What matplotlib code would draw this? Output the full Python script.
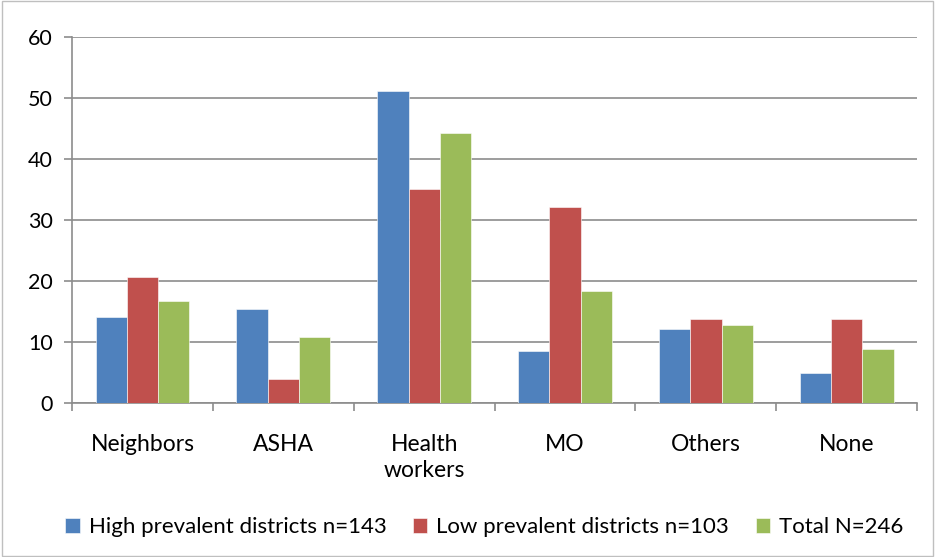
import matplotlib
matplotlib.use("Agg")
import matplotlib.pyplot as plt
import numpy as np

categories = ["Neighbors", "ASHA", "Health\nworkers", "MO", "Others", "None"]
high = [14.1, 15.4, 51.1, 8.5, 12.1, 4.9]
low = [20.7, 4.0, 35.1, 32.1, 13.8, 13.8]
total = [16.7, 10.8, 44.2, 18.4, 12.8, 8.9]
series_names = ["High prevalent districts n=143", "Low prevalent districts n=103", "Total N=246"]
colors = ["#4F81BD", "#C0504D", "#9BBB59"]
yticks = [0, 10, 20, 30, 40, 50, 60]

plt.rcParams['font.family'] = ['Lato', 'DejaVu Sans']

fig = plt.figure(figsize=(9.35, 5.57), dpi=100)
ax = fig.add_axes([0.077, 0.2765, 0.904, 0.657])

x = np.arange(len(categories))
w = 0.222
for i, (vals, name, c) in enumerate(zip([high, low, total], series_names, colors)):
    ax.bar(x + (i - 1) * w, vals, width=w, color=c, label=name, zorder=3,
           edgecolor='white', linewidth=0.4)

ax.set_xlim(-0.5, len(categories) - 0.5)
ax.set_ylim(0, 60)
ax.set_yticks(yticks)
ax.set_yticklabels([str(t) for t in yticks], fontsize=15.5)
ax.yaxis.grid(True, color='#8C8C8C', linewidth=1.2, zorder=0)
ax.set_axisbelow(True)

ax.set_xticks(x)
ax.set_xticklabels(categories, fontsize=16.5, linespacing=1.3)
ax.tick_params(axis='x', length=0, pad=22)
ax.set_xticks(np.arange(-0.5, len(categories)), minor=True)
ax.tick_params(axis='x', which='minor', length=6, color='#8C8C8C', width=1.2)
ax.tick_params(axis='y', length=6, color='#8C8C8C', width=1.2, pad=8)

for s in ['top', 'right']:
    ax.spines[s].set_visible(False)
for s in ['left', 'bottom']:
    ax.spines[s].set_color('#8C8C8C')
    ax.spines[s].set_linewidth(1.2)

fig.legend(loc='center', bbox_to_anchor=(0.518, 0.053), ncol=3, frameon=False,
           fontsize=16, handlelength=0.65, handleheight=0.65, handletextpad=0.4,
           columnspacing=1.2)

border = plt.Rectangle((0.002, 0.002), 0.996, 0.996, transform=fig.transFigure,
                       fill=False, edgecolor='#BFBFBF', linewidth=1)
fig.patches.append(border)

fig.savefig("out.png", dpi=100)
